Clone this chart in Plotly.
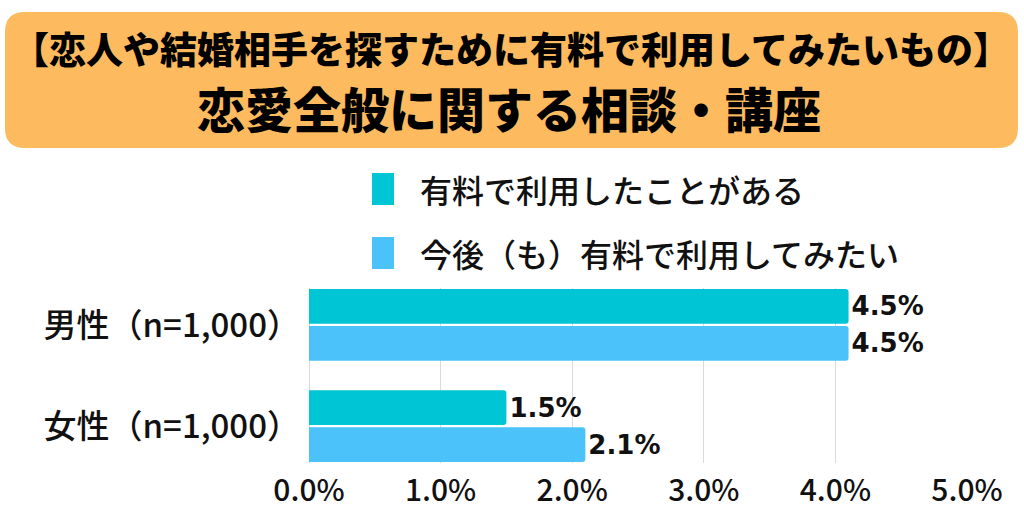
import plotly.graph_objects as go

# ---- data ----
categories = ["男性（n=1,000）", "女性（n=1,000）"]
series_names = ["有料で利用したことがある", "今後（も）有料で利用してみたい"]
# bar lengths as drawn in the picture (percent)
used_values = [4.1, 1.5]
want_values = [4.1, 2.1]
# labels printed next to the bars
used_labels = ["4.5%", "1.5%"]
want_labels = ["4.5%", "2.1%"]
x_ticks = [0, 1, 2, 3, 4, 5]
x_tick_labels = ["0.0%", "1.0%", "2.0%", "3.0%", "4.0%", "5.0%"]
title_line1 = "【恋人や結婚相手を探すために有料で利用してみたいもの】"
title_line2 = "恋愛全般に関する相談・講座"

# ---- style ----
colors = ["#00C5D5", "#4BC2F9"]
JP = "Noto Sans CJK JP"
LBL = "DejaVu Sans"

# plot-area pixel box
L, R, T, B = 309, 967, 288, 463
W, H = R - L, B - T


def px(x):
    return (x - L) / W


def py(y):
    return (B - y) / H


fig = go.Figure()
for vals, labels, name, col in [
    (used_values, used_labels, series_names[0], colors[0]),
    (want_values, want_labels, series_names[1], colors[1]),
]:
    fig.add_trace(go.Bar(
        y=categories, x=vals, name=name, orientation="h",
        marker=dict(color=col, line=dict(width=0)),
        text=labels, textposition="outside", cliponaxis=False,
        textfont=dict(family=LBL, size=26, color="#111111", weight="bold"),
        showlegend=False,
    ))

# title box (rounded rectangle)
x0, x1, y0, y1, r = 5, 1018, 12, 148, 20
rx, ry = r / W, r / H
X0, X1, Y0, Y1 = px(x0), px(x1), py(y0), py(y1)
path = (f"M {X0+rx},{Y0} L {X1-rx},{Y0} Q {X1},{Y0} {X1},{Y0-ry} "
        f"L {X1},{Y1+ry} Q {X1},{Y1} {X1-rx},{Y1} L {X0+rx},{Y1} "
        f"Q {X0},{Y1} {X0},{Y1+ry} L {X0},{Y0-ry} Q {X0},{Y0} {X0+rx},{Y0} Z")
shapes = [dict(type="path", xref="paper", yref="paper", path=path,
               fillcolor="#FDBA5E", line=dict(width=0), layer="below")]

annotations = [
    dict(text=title_line1, xref="paper", yref="paper", x=px(511), y=py(48),
         showarrow=False, xanchor="center", yanchor="middle",
         font=dict(family=JP, size=37, color="#000000", weight=900)),
    dict(text=title_line2, xref="paper", yref="paper", x=px(509), y=py(107),
         showarrow=False, xanchor="center", yanchor="middle",
         font=dict(family=JP, size=48, color="#000000", weight=900)),
]

# legend (manual)
leg_y = [189, 253]
for name, col, yc in zip(series_names, colors, leg_y):
    shapes.append(dict(type="rect", xref="paper", yref="paper",
                       x0=px(372), x1=px(394), y0=py(yc - 16), y1=py(yc + 16),
                       fillcolor=col, line=dict(width=0)))
    annotations.append(dict(text=name, xref="paper", yref="paper",
                            x=px(418), y=py(yc), showarrow=False,
                            xanchor="left", yanchor="middle",
                            font=dict(family=JP, size=32, color="#111111",
                                      weight=500)))

fig.update_layout(
    width=1024, height=512,
    margin=dict(l=L, r=1024 - R, t=T, b=512 - B, autoexpand=False),
    paper_bgcolor="white", plot_bgcolor="white",
    barmode="group", bargap=0.268, bargroupgap=0.06,
    barcornerradius=3,
    shapes=shapes, annotations=annotations,
    xaxis=dict(range=[0, 5], tickvals=x_ticks, ticktext=x_tick_labels,
               automargin=False,
               showgrid=True, gridcolor="#DADADA", gridwidth=1,
               zeroline=True, zerolinecolor="#DADADA", zerolinewidth=1,
               showline=False, ticks="", ticklabelstandoff=7,
               tickfont=dict(family=JP, size=30, color="#111111", weight=500)),
    yaxis=dict(range=[1.366, -0.366], autorange=False, automargin=False,
               showgrid=False, showline=False, ticks="", ticklabelstandoff=8,
               tickfont=dict(family=JP, size=33, color="#111111", weight=500)),
)

fig.write_html("out.html")
